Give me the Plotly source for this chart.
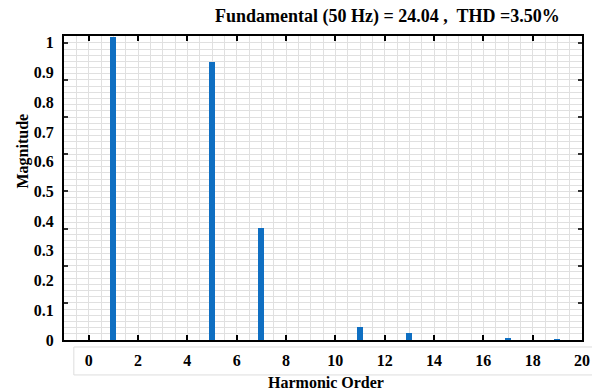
import plotly.graph_objects as go

# Data
harmonic_order = list(range(0, 20))
magnitude = [0, 1.02, 0, 0, 0, 0.936, 0, 0.376, 0, 0, 0, 0.044, 0, 0.023, 0, 0, 0, 0.005, 0, 0.002]
y_tick_vals = [0, 0.1, 0.2, 0.3, 0.4, 0.5, 0.6, 0.7, 0.8, 0.9, 1]
y_tick_text = ["0", "0.1", "0.2", "0.3", "0.4", "0.5", "0.6", "0.7", "0.8", "0.9", "1"]
y_mark_vals = [0, 0.125, 0.25, 0.375, 0.5, 0.625, 0.75, 0.875, 1.0]
x_tick_vals = [0, 2, 4, 6, 8, 10, 12, 14, 16, 18, 20]
title_text = "Fundamental (50 Hz) = 24.04 ,  THD =3.50%"

FONT = "Liberation Serif"
GRID = "#e0e0e0"

fig = go.Figure()
fig.add_trace(go.Bar(x=harmonic_order, y=magnitude, width=0.24,
                     marker=dict(color="#0f6fc2", line=dict(width=0)),
                     showlegend=False, hoverinfo="x+y"))
fig.add_trace(go.Scatter(x=[None], y=[None], yaxis="y2", showlegend=False, hoverinfo="skip"))

fig.update_layout(
    width=592, height=390,
    margin=dict(l=64, r=10, t=36, b=50, autoexpand=False),
    paper_bgcolor="white", plot_bgcolor="white",
    font=dict(family=FONT, color="black"),
    bargap=0,
    xaxis=dict(range=[-1, 20], tickmode="array", tickvals=x_tick_vals,
               ticks="inside", ticklen=5, tickwidth=1.5, tickcolor="black",
               showline=True, linecolor="black", linewidth=2, mirror="ticks",
               showgrid=True, gridcolor=GRID, gridwidth=1,
               minor=dict(dtick=0.5, showgrid=True, gridcolor=GRID),
               tickfont=dict(family=FONT, size=16, color="black", weight="bold"),
               ticklabelstandoff=5, zeroline=False, automargin=False,
               title=dict(text="")),
    yaxis=dict(range=[0, 1.023], tickmode="array", tickvals=y_tick_vals, ticktext=y_tick_text,
               ticks="", showline=True, linecolor="black", linewidth=2, mirror=True,
               showgrid=False, zeroline=False, automargin=False,
               tickfont=dict(family=FONT, size=16, color="black", weight="bold"),
               ticklabelstandoff=5),
    yaxis2=dict(range=[0, 1.023], overlaying="y", side="left", tickmode="array",
                tickvals=y_mark_vals, showticklabels=False, automargin=False,
                ticks="inside", ticklen=4, tickwidth=2, tickcolor="#333",
                mirror="ticks", showline=False, zeroline=False,
                showgrid=True, gridcolor=GRID,
                minor=dict(dtick=0.125 / 6, showgrid=True, gridcolor=GRID)),
)

# title
fig.add_annotation(text=title_text, xref="paper", yref="paper", x=0.624, y=1.0,
                   yshift=20, showarrow=False, xanchor="center", yanchor="middle",
                   font=dict(family=FONT, size=18, color="black", weight="bold"))
# y axis title
fig.add_annotation(text="Magnitude", xref="paper", yref="paper", x=0, xshift=-41,
                   y=0.62, showarrow=False, textangle=-90, xanchor="center", yanchor="middle",
                   font=dict(family=FONT, size=16, color="black", weight="bold"))
# x axis title
fig.add_annotation(text="Harmonic Order", xref="paper", yref="paper", x=0.505, y=0,
                   yshift=-42, showarrow=False, xanchor="center", yanchor="middle",
                   font=dict(family=FONT, size=16, color="black", weight="bold"))
# light box around the x tick labels
fig.add_shape(type="rect", xref="paper", yref="paper", x0=0.019, x1=1.03, y0=-0.023, y1=-0.115,
              line=dict(color="#dddddd", width=1),
              fillcolor="rgba(0,0,0,0)", layer="below")

fig.write_html("out.html")
